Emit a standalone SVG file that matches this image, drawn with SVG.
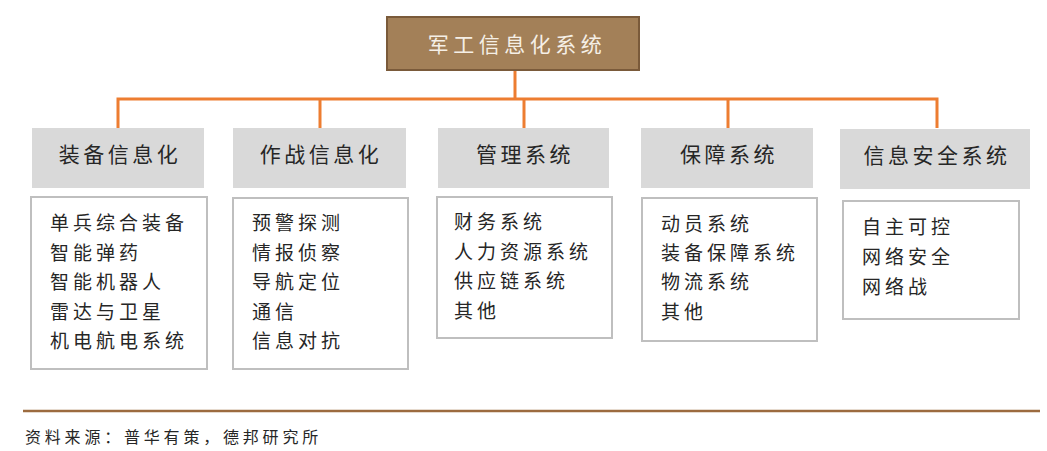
<svg xmlns="http://www.w3.org/2000/svg" width="1047" height="451" viewBox="0 0 1047 451">
<style>
text{font-family:"Noto Sans CJK SC","Liberation Sans",sans-serif;}
.conn{stroke:#ED7D31;stroke-width:3;fill:none;}
.hdr{fill:#D9D9D9;}
.hdrt{font-size:21px;fill:#262626;letter-spacing:3.5px;dominant-baseline:central;}
.box{fill:#FFFFFF;stroke:#BFBFBF;stroke-width:2;}
.it{font-size:19px;fill:#262626;letter-spacing:4px;}
</style>
<rect width="1047" height="451" fill="#FFFFFF"/>
<g id="connectors">
<path class="conn" d="M515 70 V99"/>
<path class="conn" d="M118 128 V99 H937 V128"/>
<path class="conn" d="M320 99 V128"/>
<path class="conn" d="M524 99 V128"/>
<path class="conn" d="M728 99 V128"/>
</g>
<g id="root">
<rect x="387" y="17" width="252" height="53" fill="#A38058" stroke="#7A5A3A" stroke-width="2"/>
<text x="517" y="43" text-anchor="middle" font-size="21" fill="#F5EFE6" letter-spacing="4.5" dominant-baseline="central">军工信息化系统</text>
</g>
<g id="equip">
<rect class="hdr" x="32" y="128" width="172" height="60"/>
<text class="hdrt" x="120" y="153" text-anchor="middle">装备信息化</text>
<rect class="box" x="31" y="197" width="176" height="172"/>
<text class="it" x="50" y="230">单兵综合装备</text>
<text class="it" x="50" y="259.5">智能弹药</text>
<text class="it" x="50" y="289">智能机器人</text>
<text class="it" x="50" y="318.5">雷达与卫星</text>
<text class="it" x="50" y="348">机电航电系统</text>
</g>
<g id="combat">
<rect class="hdr" x="233" y="128" width="173" height="60"/>
<text class="hdrt" x="321" y="153" text-anchor="middle">作战信息化</text>
<rect class="box" x="233" y="198" width="175" height="171"/>
<text class="it" x="252" y="230">预警探测</text>
<text class="it" x="252" y="259.5">情报侦察</text>
<text class="it" x="252" y="289">导航定位</text>
<text class="it" x="252" y="318.5">通信</text>
<text class="it" x="252" y="348">信息对抗</text>
</g>
<g id="mgmt">
<rect class="hdr" x="438" y="128" width="171" height="60"/>
<text class="hdrt" x="525" y="153" text-anchor="middle">管理系统</text>
<rect class="box" x="437" y="197" width="175" height="141"/>
<text class="it" x="454" y="229">财务系统</text>
<text class="it" x="454" y="258.5">人力资源系统</text>
<text class="it" x="454" y="288">供应链系统</text>
<text class="it" x="454" y="318">其他</text>
</g>
<g id="support">
<rect class="hdr" x="641" y="128" width="172" height="60"/>
<text class="hdrt" x="729" y="153" text-anchor="middle">保障系统</text>
<rect class="box" x="642" y="198" width="175" height="143"/>
<text class="it" x="661" y="231">动员系统</text>
<text class="it" x="661" y="260">装备保障系统</text>
<text class="it" x="661" y="289">物流系统</text>
<text class="it" x="661" y="319">其他</text>
</g>
<g id="security">
<rect class="hdr" x="840" y="129" width="190" height="60"/>
<text class="hdrt" x="937" y="154" text-anchor="middle">信息安全系统</text>
<rect class="box" x="843" y="201" width="176" height="118"/>
<text class="it" x="862" y="234">自主可控</text>
<text class="it" x="862" y="264">网络安全</text>
<text class="it" x="862" y="294">网络战</text>
</g>
<g id="footer">
<line x1="23" y1="411" x2="1040" y2="411" stroke="#9C6B3F" stroke-width="2.5"/>
<text x="25" y="443" font-size="16" fill="#262626" letter-spacing="3.8">资料来源：普华有策，德邦研究所</text>
</g>
</svg>
